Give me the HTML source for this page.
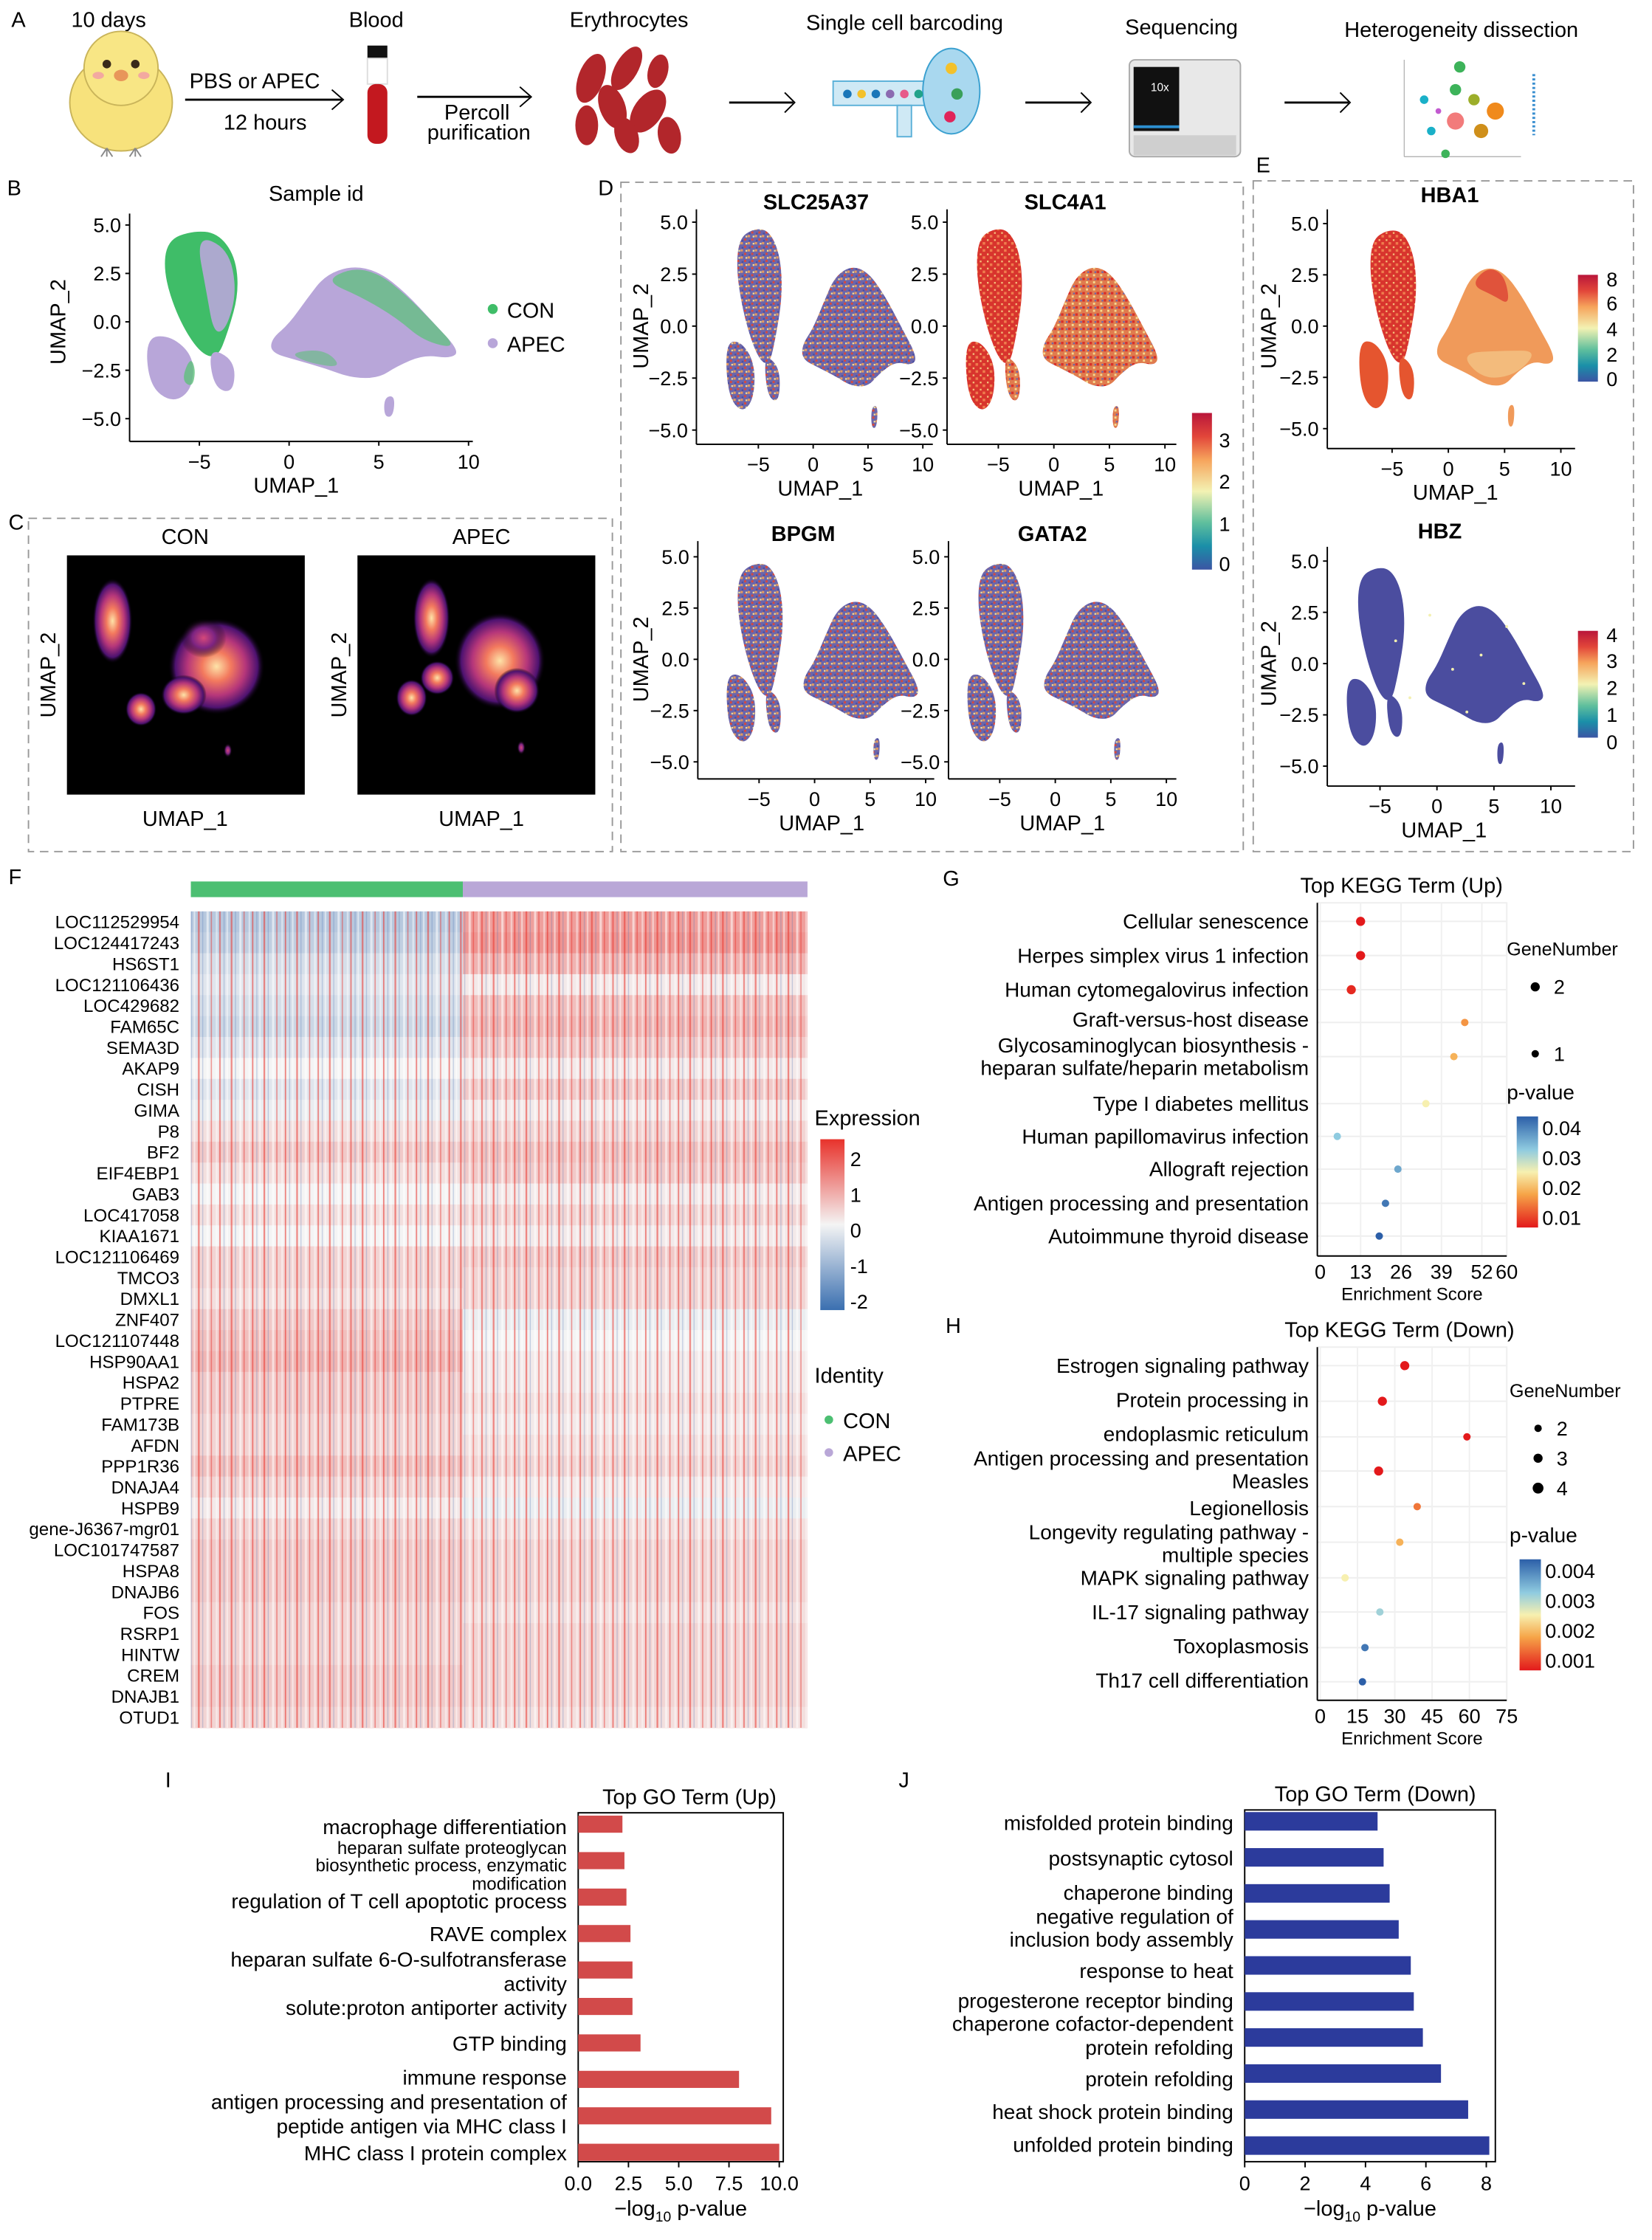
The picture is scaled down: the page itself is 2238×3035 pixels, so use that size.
<!DOCTYPE html>
<html><head><meta charset="utf-8">
<style>
html,body{margin:0;padding:0;background:#fff;}
svg{display:block;font-family:"Liberation Sans",sans-serif;}
</style></head>
<body>
<svg id="fig" width="2238" height="3035" viewBox="0 0 1160 1573" preserveAspectRatio="none" xmlns="http://www.w3.org/2000/svg">
<defs>
<pattern id="speck" width="5" height="5" patternUnits="userSpaceOnUse">
<rect width="5" height="5" fill="#6b66ab"/><rect x="0" y="0" width="1.6" height="1.6" fill="#e89a5c"/><rect x="2.5" y="2.5" width="1.5" height="1.5" fill="#d9493a"/><rect x="3.5" y="0.5" width="1.2" height="1.2" fill="#f3dc96"/><rect x="0.8" y="3.4" width="1.2" height="1.2" fill="#4c4da0"/>
</pattern>
<pattern id="speckWarm" width="5" height="5" patternUnits="userSpaceOnUse">
<rect width="5" height="5" fill="#e07c4e"/><rect x="0" y="0" width="1.8" height="1.8" fill="#d7302b"/><rect x="2.5" y="2.5" width="1.5" height="1.5" fill="#f5d88e"/><rect x="3.5" y="0.5" width="1.2" height="1.2" fill="#6b66ab"/>
</pattern>
<pattern id="speckRed" width="5" height="5" patternUnits="userSpaceOnUse">
<rect width="5" height="5" fill="#d8342d"/><rect x="0" y="0" width="1.8" height="1.8" fill="#ef7d4e"/><rect x="3" y="3" width="1.2" height="1.2" fill="#f4c07a"/>
</pattern>
<pattern id="hmStripe" width="23" height="14.7" patternUnits="userSpaceOnUse">
<rect x="1" width="1.2" height="14.7" fill="#e8322b" opacity="0.55"/><rect x="4" width="0.7" height="14.7" fill="#4a72b5" opacity="0.3"/><rect x="7" width="1.6" height="14.7" fill="#ffffff" opacity="0.55"/><rect x="10" width="0.8" height="14.7" fill="#e8322b" opacity="0.5"/><rect x="13.5" width="1.3" height="14.7" fill="#ffffff" opacity="0.45"/><rect x="16" width="0.9" height="14.7" fill="#e8322b" opacity="0.6"/><rect x="19" width="0.7" height="14.7" fill="#4a72b5" opacity="0.3"/><rect x="21" width="1.1" height="14.7" fill="#ffffff" opacity="0.5"/>
</pattern>
<linearGradient id="spectral" x1="0" y1="1" x2="0" y2="0">
<stop offset="0" stop-color="#3b55a4"/><stop offset="0.15" stop-color="#1a8fa8"/><stop offset="0.3" stop-color="#5fbf9d"/><stop offset="0.5" stop-color="#f3f2b3"/><stop offset="0.7" stop-color="#f6a45c"/><stop offset="0.85" stop-color="#e2463a"/><stop offset="1" stop-color="#b9163a"/>
</linearGradient>
<linearGradient id="exprGrad" x1="0" y1="1" x2="0" y2="0">
<stop offset="0" stop-color="#3a6fb0"/><stop offset="0.5" stop-color="#f4f4f4"/><stop offset="1" stop-color="#e8322b"/>
</linearGradient>
<linearGradient id="pGrad" x1="0" y1="1" x2="0" y2="0">
<stop offset="0" stop-color="#e3191b"/><stop offset="0.3" stop-color="#f6a548"/><stop offset="0.5" stop-color="#f7f0b0"/><stop offset="0.7" stop-color="#8fcbe0"/><stop offset="1" stop-color="#2c5fa8"/>
</linearGradient>
<radialGradient id="magma">
<stop offset="0" stop-color="#fde3a8"/><stop offset="0.3" stop-color="#f37a5e"/><stop offset="0.6" stop-color="#b5367a"/><stop offset="0.85" stop-color="#4d1270"/><stop offset="1" stop-color="#000" stop-opacity="0"/>
</radialGradient>
<radialGradient id="magmaDim">
<stop offset="0" stop-color="#d5487a"/><stop offset="0.5" stop-color="#7d2482"/><stop offset="1" stop-color="#000" stop-opacity="0"/>
</radialGradient>
</defs>

<!-- PANEL A -->
<g font-size="15">
<text x="8" y="19" font-size="15">A</text>
<text x="50" y="19">10 days</text>
<g>
<ellipse cx="85" cy="72" rx="36" ry="34" fill="#f7e27c" stroke="#c9b45a"/>
<circle cx="85" cy="48" r="26" fill="#f8e685" stroke="#c9b45a"/>
<circle cx="75" cy="45" r="3" fill="#3a2a1a"/><circle cx="95" cy="45" r="3" fill="#3a2a1a"/>
<ellipse cx="85" cy="53" rx="5" ry="4" fill="#e8965a"/>
<ellipse cx="69" cy="53" rx="4" ry="2.5" fill="#f3a9a0"/><ellipse cx="101" cy="53" rx="4" ry="2.5" fill="#f3a9a0"/>
<path d="M75 104 l-4 6 M75 104 l0 6 M75 104 l4 6 M95 104 l-4 6 M95 104 l0 6 M95 104 l4 6" stroke="#888" fill="none"/>
</g>
<text x="133" y="62">PBS or APEC</text>
<line x1="130" y1="70" x2="240" y2="70" stroke="#000" stroke-width="1.5"/><path d="M233 63 L241 70 L233 77" stroke="#000" fill="none"/>
<text x="157" y="91">12 hours</text>
<text x="245" y="19">Blood</text>
<g>
<rect x="258" y="32" width="14" height="9" fill="#111"/><rect x="258" y="41" width="14" height="18" fill="#fff" stroke="#ddd"/><rect x="258" y="59" width="14" height="42" rx="6" fill="#c3181f"/>
</g>
<line x1="293" y1="68" x2="372" y2="68" stroke="#000" stroke-width="1.5"/><path d="M365 61 L373 68 L365 75" stroke="#000" fill="none"/>
<text x="312" y="84">Percoll</text><text x="300" y="98">purification</text>
<text x="400" y="19">Erythrocytes</text>
<g fill="#b2262b">
<ellipse cx="415" cy="55" rx="9" ry="18" transform="rotate(20 415 55)"/><ellipse cx="440" cy="48" rx="8" ry="17" transform="rotate(30 440 48)"/><ellipse cx="462" cy="50" rx="7" ry="12" transform="rotate(15 462 50)"/>
<ellipse cx="430" cy="75" rx="9" ry="16" transform="rotate(-20 430 75)"/><ellipse cx="455" cy="78" rx="10" ry="17" transform="rotate(35 455 78)"/><ellipse cx="412" cy="88" rx="8" ry="14"/><ellipse cx="440" cy="95" rx="8" ry="13" transform="rotate(-20 440 95)"/><ellipse cx="470" cy="95" rx="8" ry="13" transform="rotate(-10 470 95)"/>
</g>
<line x1="512" y1="72" x2="557" y2="72" stroke="#000" stroke-width="1.5"/><path d="M551 65 L558 72 L551 79" stroke="#000" fill="none"/>
<text x="566" y="21">Single cell barcoding</text>
<g>
<rect x="585" y="57" width="70" height="17" fill="#cfe9f5" stroke="#5ab0d8"/><rect x="630" y="74" width="10" height="22" fill="#cfe9f5" stroke="#5ab0d8"/>
<ellipse cx="668" cy="64" rx="20" ry="30" fill="#a9d8ef" stroke="#3aa0d0"/>
<circle cx="595" cy="66" r="3" fill="#1a76b8"/><circle cx="605" cy="66" r="3" fill="#f3c12b"/><circle cx="615" cy="66" r="3" fill="#1a76b8"/><circle cx="625" cy="66" r="3" fill="#8c6bb1"/><circle cx="635" cy="66" r="3" fill="#e75a8a"/><circle cx="645" cy="66" r="3" fill="#22a38a"/><circle cx="668" cy="48" r="4" fill="#f3c12b"/><circle cx="672" cy="66" r="4" fill="#3aa05a"/><circle cx="667" cy="82" r="4" fill="#e0245a"/>
</g>
<line x1="720" y1="72" x2="765" y2="72" stroke="#000" stroke-width="1.5"/><path d="M759 65 L766 72 L759 79" stroke="#000" fill="none"/>
<text x="790" y="24">Sequencing</text>
<g>
<rect x="793" y="42" width="78" height="68" rx="4" fill="#e8e8e8" stroke="#aaa"/><rect x="796" y="47" width="32" height="45" fill="#111"/><rect x="796" y="88" width="32" height="2" fill="#2c8fd0"/><rect x="796" y="95" width="72" height="14" fill="#cfcfcf"/>
<text x="808" y="64" font-size="8" fill="#fff">10x</text>
</g>
<line x1="902" y1="72" x2="947" y2="72" stroke="#000" stroke-width="1.5"/><path d="M941 65 L948 72 L941 79" stroke="#000" fill="none"/>
<text x="944" y="26">Heterogeneity dissection</text>
<g>
<rect x="976" y="40" width="124" height="76" fill="#fff"/><line x1="986" y1="42" x2="986" y2="110" stroke="#aaa" stroke-width="0.6"/><line x1="986" y1="110" x2="1068" y2="110" stroke="#aaa" stroke-width="0.6"/>
<circle cx="1025" cy="47" r="4" fill="#3db35a"/><circle cx="1022" cy="63" r="4" fill="#3db35a"/><circle cx="1035" cy="70" r="4" fill="#9cae2a"/><circle cx="1050" cy="78" r="6" fill="#f08a1c"/><circle cx="1022" cy="85" r="6" fill="#f27b7b"/><circle cx="1040" cy="92" r="5" fill="#cf8f1a"/><circle cx="1000" cy="70" r="3" fill="#1ab0c8"/><circle cx="1005" cy="92" r="3" fill="#1ab0c8"/><circle cx="1015" cy="108" r="3" fill="#3db35a"/><circle cx="1010" cy="78" r="2" fill="#c25ad0"/>
<line x1="1077" y1="52" x2="1077" y2="95" stroke="#3a8fd0" stroke-dasharray="1.5 1.5" stroke-width="2"/>
</g>
</g>

<!-- dashed boxes -->
<rect x="20" y="364" width="410" height="234" fill="none" stroke="#999" stroke-dasharray="6 4"/>
<rect x="436" y="128" width="437" height="470" fill="none" stroke="#999" stroke-dasharray="6 4"/>
<rect x="880" y="127" width="267" height="471" fill="none" stroke="#999" stroke-dasharray="6 4"/>

<g id="umaps" font-size="15"></g>
<g id="densityC" font-size="15"></g>
<g id="heatF"></g>
<g id="dotG"></g>
<g id="dotH"></g>
<g id="barI"></g>
<g id="barJ"></g>
</svg>
<script>
const NS='http://www.w3.org/2000/svg';
function el(parent,tag,attrs,text){const e=document.createElementNS(NS,tag);for(const k in attrs)e.setAttribute(k,attrs[k]);if(text!==undefined)e.textContent=text;parent.appendChild(e);return e;}

// ---------- Heatmap data (F) ----------
const genes=["LOC112529954","LOC124417243","HS6ST1","LOC121106436","LOC429682","FAM65C","SEMA3D","AKAP9","CISH","GIMA","P8","BF2","EIF4EBP1","GAB3","LOC417058","KIAA1671","LOC121106469","TMCO3","DMXL1","ZNF407","LOC121107448","HSP90AA1","HSPA2","PTPRE","FAM173B","AFDN","PPP1R36","DNAJA4","HSPB9","gene-J6367-mgr01","LOC101747587","HSPA8","DNAJB6","FOS","RSRP1","HINTW","CREM","DNAJB1","OTUD1"];
const conExpr=[-0.6,-0.5,-0.3,-0.2,-0.3,-0.4,-0.2,0.0,-0.2,-0.1,0.2,0.4,0.2,0.0,0.2,0.0,0.3,0.3,0.2,0.4,0.5,0.6,0.4,0.4,0.3,0.3,0.5,0.3,0.1,0.3,0.4,0.4,0.4,0.3,0.3,0.3,0.4,0.4,0.3];
const apecExpr=[0.8,0.9,0.6,0.1,0.5,0.6,0.4,0.1,0.4,0.1,0.3,0.5,0.4,0.1,0.3,0.1,0.4,0.3,0.3,-0.1,0.0,0.1,0.1,0.2,0.1,0.2,0.3,0.1,-0.1,0.2,0.3,0.3,0.3,0.2,0.3,0.3,0.3,0.3,0.2];
const exprTicks=[2,1,0,-1,-2];

// ---------- KEGG up (G) ----------
const gScore=[13,13,10,46.5,43,34,5.5,25,21,19];
const gPval=[0.01,0.01,0.011,0.018,0.02,0.025,0.031,0.034,0.038,0.04];
const gGenes=[2,2,2,1,1,1,1,1,1,1];
const gTicks=[0,13,26,39,52,60];
const gPTicks=[0.04,0.03,0.02,0.01];

// ---------- KEGG down (H) ----------
const hScore=[34,25,59,23.5,39,32,10,24,18,17];
const hPval=[0.001,0.001,0.001,0.001,0.0016,0.002,0.0025,0.003,0.0038,0.004];
const hGenes=[3,3,2,3,2,2,2,2,2,2];
const hTicks=[0,15,30,45,60,75];
const hPTicks=[0.004,0.003,0.002,0.001];

// ---------- GO up (I) ----------
const iLabels=[["macrophage differentiation",1283,14.5],["heparan sulfate proteoglycan",1297,12.5],["biosynthetic process, enzymatic",1309,12.5],["modification",1322,12.5],["regulation of T cell apoptotic process",1335,14.5],["RAVE complex",1358,14.5],["heparan sulfate 6-O-sulfotransferase",1376,14.5],["activity",1393,14.5],["solute:proton antiporter activity",1410,14.5],["GTP binding",1435,14.5],["immune response",1459,14.5],["antigen processing and presentation of",1476,14.5],["peptide antigen via MHC class I",1493,14.5],["MHC class I protein complex",1512,14.5]];
const iVals=[2.2,2.3,2.4,2.6,2.7,2.7,3.1,8.0,9.6,10.0];
const iTicks=[0,2.5,5,7.5,10];

// ---------- GO down (J) ----------
const jLabels=[["misfolded protein binding",1280],["postsynaptic cytosol",1305],["chaperone binding",1329],["negative regulation of",1346],["inclusion body assembly",1362],["response to heat",1384],["progesterone receptor binding",1405],["chaperone cofactor-dependent",1421],["protein refolding",1438],["protein refolding",1460],["heat shock protein binding",1483],["unfolded protein binding",1506]];
const jVals=[4.4,4.6,4.8,5.1,5.5,5.6,5.9,6.5,7.4,8.1];
const jTicks=[0,2,4,6,8];

// ================= UMAP panels =================
const blobs={
 leftUp:[[-6.8,4.2],[-5.4,4.7],[-4.0,4.6],[-3.0,3.4],[-2.8,1.5],[-3.4,-0.5],[-4.0,-1.9],[-5.0,-1.6],[-6.2,0.2],[-7.0,2.5]],
 leftLow:[[-8.0,-0.8],[-6.6,-0.7],[-5.3,-1.8],[-5.4,-3.5],[-6.5,-4.2],[-7.8,-3.3]],
 small:[[-4.5,-1.3],[-3.0,-2.0],[-3.1,-3.7],[-4.2,-3.4]],
 right:[[-1,-0.9],[0,-0.1],[1,1.2],[2,2.4],[3.5,2.9],[5,2.6],[6.5,1.5],[8,0],[9.5,-1.5],[9,-1.9],[7.5,-1.7],[6,-2.3],[5,-2.9],[3.5,-2.9],[2,-2.4],[0.5,-2.0],[-1,-1.6]],
 tiny:[[5.3,-3.9],[5.9,-3.8],[5.8,-4.9],[5.3,-4.9]]
};
function blobPath(pts,X,Y){
 const n=pts.length;let d='';
 for(let i=0;i<n;i++){const p=pts[i],q=pts[(i+1)%n];const mx=(X(p[0])+X(q[0]))/2,my=(Y(p[1])+Y(q[1]))/2;
  if(i===0){const r=pts[n-1];d+='M'+((X(r[0])+X(p[0]))/2)+' '+((Y(r[1])+Y(p[1]))/2);}
  d+=' Q'+X(p[0])+' '+Y(p[1])+' '+mx+' '+my;}
 return d+'Z';
}
const U=document.getElementById('umaps');
function umapPanel(cfg){
 const g=el(U,'g',{});
 
 
 const X=v=>cfg.x0+v*cfg.sx, Y=v=>cfg.y0-v*cfg.sy;
 for(const k of ['leftUp','leftLow','small','right','tiny']){
  const p=el(g,'path',{d:blobPath(blobs[k],X,Y),fill:(cfg.fills&&cfg.fills[k])||cfg.fill});
  
  
 }
 if(cfg.extra)cfg.extra(g,X,Y);
 const ax=el(g,'g',{stroke:'#000','stroke-width':1});
 el(ax,'line',{x1:cfg.axL,y1:cfg.axB,x2:cfg.axR,y2:cfg.axB});
 el(ax,'line',{x1:cfg.axL,y1:cfg.axT,x2:cfg.axL,y2:cfg.axB});
 const xt=[-5,0,5,10], yt=[5,2.5,0,-2.5,-5];
 xt.forEach(v=>{el(ax,'line',{x1:X(v),x2:X(v),y1:cfg.axB,y2:cfg.axB+3});
  const t=el(g,'text',{x:X(v),y:cfg.axB+19,'text-anchor':'middle','font-size':14},(v<0?'\u2212':'')+Math.abs(v));
  });
 yt.forEach(v=>{el(ax,'line',{x1:cfg.axL-3,x2:cfg.axL,y1:Y(v),y2:Y(v)});
  const t=el(g,'text',{x:cfg.axL-6,y:Y(v)+5,'text-anchor':'end','font-size':14},(v<0?'\u2212':'')+Math.abs(v).toFixed(1));
  });
 const xl=el(g,'text',{x:X(0)+5,y:cfg.axB+36,'text-anchor':'middle','font-size':15},'UMAP_1');
 
 if(cfg.ylab){const yl=el(g,'text',{x:0,y:0,'text-anchor':'middle','font-size':15,transform:`translate(${cfg.ylx},${Y(0)}) rotate(-90)`},'UMAP_2');
  }
 if(cfg.title){const tt=el(g,'text',{x:cfg.tx,y:cfg.ty,'text-anchor':'middle','font-size':cfg.tsize||15,'font-weight':cfg.bold?'bold':'normal'},cfg.title);
  }
}
umapPanel({name:'panel-b-sample-umap',x0:203,y0:226,sx:12.6,sy:13.6,fill:'#b8a6d9',
 axL:91,axR:332,axT:150,axB:310,ylab:true,ylx:46,title:'Sample id',tx:222,ty:141,
 fills:{leftUp:'#3fbd68'},
 extra:(g,X,Y)=>{
  el(g,'path',{d:blobPath([[-5.2,4.5],[-3.4,3.8],[-2.9,1.6],[-3.5,-0.4],[-4.2,-0.6],[-4.6,1.5]],X,Y),fill:'#b8a6d9',opacity:0.9});
  el(g,'path',{d:blobPath([[2,2.1],[3.5,2.8],[5,2.5],[6.5,1.4],[8,0],[9.4,-1.4],[7.5,-1.0],[6,0.2],[4,1.3]],X,Y),fill:'#5fc07c',opacity:0.75});
  el(g,'path',{d:blobPath([[-5.5,-1.8],[-5.2,-2.5],[-5.4,-3.4],[-6.0,-3.0]],X,Y),fill:'#5fc07c',opacity:0.8});
  el(g,'path',{d:blobPath([[0,-1.6],[2,-1.4],[3,-2.4],[1,-2.1]],X,Y),fill:'#5fc07c',opacity:0.6});
 }});
const lg=el(U,'g',{'font-size':15});

el(lg,'circle',{cx:346,cy:217,r:3.5,fill:'#3fbd68'});el(lg,'text',{x:356,y:223},'CON');
el(lg,'circle',{cx:346,cy:241,r:3.5,fill:'#b8a6d9'});el(lg,'text',{x:356,y:247},'APEC');
el(U,'text',{x:5,y:137,'font-size':15},'B');
el(U,'text',{x:6,y:372,'font-size':15},'C');
el(U,'text',{x:420,y:137,'font-size':15},'D');
el(U,'text',{x:882,y:121,'font-size':15},'E');
const dCommon={sy:14.6,ylab:true,bold:true};
umapPanel(Object.assign({},dCommon,{name:'umap-slc25a37',x0:571,y0:229,sx:7.7,fill:'url(#speck)',axL:489,axR:655,axT:147,axB:312,ylx:455,title:'SLC25A37',tx:573,ty:147}));
umapPanel(Object.assign({},dCommon,{name:'umap-slc4a1',x0:740,y0:229,sx:7.8,fill:'url(#speckWarm)',fills:{leftUp:'url(#speckRed)',leftLow:'url(#speckRed)'},axL:665,axR:826,axT:147,axB:312,ylab:false,title:'SLC4A1',tx:748,ty:147}));
umapPanel(Object.assign({},dCommon,{name:'umap-bpgm',x0:572,y0:463,sx:7.8,sy:14.4,fill:'url(#speck)',axL:490,axR:656,axT:380,axB:547,ylx:455,title:'BPGM',tx:564,ty:380}));
umapPanel(Object.assign({},dCommon,{name:'umap-gata2',x0:741,y0:463,sx:7.8,sy:14.4,fill:'url(#speck)',axL:666,axR:826,axT:380,axB:547,ylab:false,title:'GATA2',tx:739,ty:380}));
umapPanel({name:'umap-hba1',x0:1017,y0:229,sx:7.9,sy:14.4,fill:'#f09a5a',fills:{leftUp:'url(#speckRed)',leftLow:'#e5552f',small:'#e5552f'},axL:932,axR:1106,axT:147,axB:315,ylab:true,ylx:896,title:'HBA1',tx:1018,ty:142,bold:true,
 extra:(g,X,Y)=>{el(g,'path',{d:blobPath([[2,2],[3.5,2.9],[5,2.5],[5.5,1],[4,1.5]],X,Y),fill:'#d8342d',opacity:0.7});
  el(g,'path',{d:blobPath([[1,-1.3],[5,-1.2],[8,-1.2],[6,-2.4],[3,-2.6]],X,Y),fill:'#f4c98a',opacity:0.7});}});
umapPanel({name:'umap-hbz',x0:1009,y0:466,sx:8,sy:14.4,fill:'#4b4d9f',axL:932,axR:1106,axT:384,axB:552,ylab:true,ylx:896,title:'HBZ',tx:1011,ty:378,bold:true});
function colorbar(parent,name,x,y,w,h,fill,labels,lx){
 const g=el(parent,'g',{});
 el(g,'rect',{x,y,width:w,height:h,fill});
 labels.forEach(l=>{el(g,'text',{x:lx,y:l[1]+5,'font-size':14},l[0]);});
 return g;
}
colorbar(U,'colorbar-d',837,290,14,110,'url(#spectral)',[['3',309],['2',338],['1',368],['0',396]],856);
colorbar(U,'colorbar-hba1',1108,193,14,75,'url(#spectral)',[['8',196],['6',213],['4',231],['2',249],['0',266]],1128);
colorbar(U,'colorbar-hbz',1108,443,14,75,'url(#spectral)',[['4',446],['3',464],['2',483],['1',502],['0',521]],1128);
[[1004,432],[980,450],[1020,470],[1040,460],[1070,480],[990,490],[1058,440],[1030,500]].forEach(p=>el(U,'circle',{cx:p[0],cy:p[1],r:1,fill:'#f3f0b0'}));

// ================= Panel C density =================
const C=document.getElementById('densityC');
[['CON',47,130],['APEC',251,338]].forEach(([lab,x0,tx],k)=>{
 const g=el(C,'g',{});
 el(g,'rect',{x:x0,y:390,width:167,height:168,fill:'#000'});
 const bl=k===0?[[32,46,14,30,1],[52,108,11,12,1],[105,78,34,34,1],[82,98,16,14,1],[113,137,3,5,0],[96,58,16,14,0]]:[[52,44,13,28,1],[38,100,11,13,1],[56,86,12,12,1],[100,74,32,34,1],[112,95,16,16,1],[115,135,3,5,0]];
 bl.forEach(b=>el(g,'ellipse',{cx:x0+b[0],cy:390+b[1],rx:b[2],ry:b[3],fill:b[4]?'url(#magma)':'url(#magmaDim)'}));
 el(g,'text',{x:tx,y:382,'text-anchor':'middle'},lab);
 el(g,'text',{x:tx,y:580,'text-anchor':'middle'},'UMAP_1');
 el(g,'text',{x:0,y:0,'text-anchor':'middle',transform:`translate(${x0-8},474) rotate(-90)`},'UMAP_2');
});

// ================= Panel F heatmap =================
const F=document.getElementById('heatF');
el(F,'text',{x:6,y:621,'font-size':15},'F');
const hmL=134,hmSplit=325,hmR=567,hmT=640,rowH=14.7;
function exprColor(v){
 v=Math.max(-2,Math.min(2,v));const t=Math.min(1,Math.abs(v)/2*1.1);
 const w=[244,244,244], c=v>=0?[232,50,43]:[58,111,176];
 const m=w.map((a,i)=>Math.round(a+(c[i]-a)*t));
 return `rgb(${m[0]},${m[1]},${m[2]})`;
}
const topCon=el(F,'rect',{x:hmL,y:619,width:hmSplit-hmL,height:11,fill:'#4cbf72'});

const topApec=el(F,'rect',{x:hmSplit,y:619,width:hmR-hmSplit,height:11,fill:'#b9a7d7'});

genes.forEach((gname,i)=>{
 const y=hmT+i*rowH;
 const a=el(F,'rect',{x:hmL,y:y,width:hmSplit-hmL,height:rowH+0.3,fill:exprColor(conExpr[i])});
 
 const b=el(F,'rect',{x:hmSplit,y:y,width:hmR-hmSplit,height:rowH+0.3,fill:exprColor(apecExpr[i])});
 
 const t=el(F,'text',{x:126,y:y+rowH/2+4.5,'text-anchor':'end','font-size':12.5},gname);
 
});
el(F,'rect',{x:hmL,y:hmT,width:hmR-hmL,height:genes.length*rowH,fill:'url(#hmStripe)'});
el(F,'text',{x:572,y:790,'font-size':15},'Expression');
el(F,'rect',{x:576,y:800,width:17,height:120,fill:'url(#exprGrad)'});
exprTicks.forEach((v,i)=>el(F,'text',{x:597,y:819+i*25,'font-size':14},(v<0?'-':'')+Math.abs(v)));
el(F,'text',{x:572,y:971,'font-size':15},'Identity');
el(F,'circle',{cx:582,cy:997,r:3,fill:'#4cbf72'});el(F,'text',{x:592,y:1003,'font-size':15},'CON');
el(F,'circle',{cx:582,cy:1020,r:3,fill:'#b9a7d7'});el(F,'text',{x:592,y:1026,'font-size':15},'APEC');

// ================= Dot plots =================
function pColor(p,pmin,pmax){
 const t=(p-pmin)/(pmax-pmin);
 const stops=[[0,[227,25,27]],[0.3,[246,165,72]],[0.5,[247,240,176]],[0.7,[143,203,224]],[1,[44,95,168]]];
 for(let i=0;i<stops.length-1;i++){if(t<=stops[i+1][0]){const u=(t-stops[i][0])/(stops[i+1][0]-stops[i][0]);const c=stops[i][1].map((a,k)=>Math.round(a+(stops[i+1][1][k]-a)*u));return `rgb(${c})`;}}
 return 'rgb(44,95,168)';
}
function dotPlot(G,cfg){
 el(G,'text',{x:cfg.letterX,y:cfg.letterY,'font-size':15},cfg.letter);
 el(G,'text',{x:cfg.titleX,y:cfg.titleY,'font-size':15},cfg.title);
 el(G,'rect',{x:cfg.L,y:cfg.T,width:cfg.R-cfg.L,height:cfg.B-cfg.T,fill:'#fff',stroke:'#eee'});
 const X=v=>cfg.L+2+(v-cfg.xmin)/(cfg.xmax-cfg.xmin)*(cfg.R-cfg.L-2);
 cfg.rows.forEach(y=>el(G,'line',{x1:cfg.L,x2:cfg.R,y1:y,y2:y,stroke:'#eee'}));
 cfg.ticks.forEach(v=>{el(G,'line',{x1:X(v),x2:X(v),y1:cfg.T,y2:cfg.B,stroke:'#f0f0f0'});
  el(G,'text',{x:X(v),y:cfg.B+16,'text-anchor':'middle','font-size':14},v);});
 el(G,'line',{x1:cfg.L,x2:cfg.R,y1:cfg.B,y2:cfg.B,stroke:'#000'});
 el(G,'line',{x1:cfg.L,x2:cfg.L,y1:cfg.T,y2:cfg.B,stroke:'#000'});
 el(G,'text',{x:(cfg.L+cfg.R)/2,y:cfg.B+31,'text-anchor':'middle','font-size':12.5},'Enrichment Score');
 cfg.labels.forEach(l=>{const t=el(G,'text',{x:cfg.L-6,y:l[1]+5,'text-anchor':'end','font-size':14.5},l[0]);
  });
 cfg.scores.forEach((s,i)=>{
  const c=el(G,'circle',{cx:X(s),cy:cfg.rows[i],r:cfg.rad(cfg.genes[i]),fill:pColor(cfg.pval[i],cfg.pmin,cfg.pmax)});
  
  
 });
 el(G,'text',{x:cfg.lgX,y:cfg.lgY,'font-size':13},'GeneNumber');
 cfg.geneLeg.forEach((gv,i)=>{el(G,'circle',{cx:cfg.lgX+20,cy:cfg.lgY+22+i*cfg.glStep,r:cfg.rad(gv),fill:'#000'});
  el(G,'text',{x:cfg.lgX+33,y:cfg.lgY+27+i*cfg.glStep,'font-size':14},gv);});
 el(G,'text',{x:cfg.lgX,y:cfg.pY,'font-size':14.5},'p-value');
 el(G,'rect',{x:cfg.lgX+7,y:cfg.pY+12,width:15,height:78,fill:'url(#pGrad)'});
 cfg.pTicks.forEach((v,i)=>el(G,'text',{x:cfg.lgX+25,y:cfg.pY+25+i*21,'font-size':14},String(v)));
}
const GL=[["Cellular senescence",647],["Herpes simplex virus 1 infection",671],["Human cytomegalovirus infection",695],["Graft-versus-host disease",716],["Glycosaminoglycan biosynthesis -",734],["heparan sulfate/heparin metabolism",750],["Type I diabetes mellitus",775],["Human papillomavirus infection",798],["Allograft rejection",821],["Antigen processing and presentation",845],["Autoimmune thyroid disease",868]];
dotPlot(document.getElementById('dotG'),{letter:'G',letterX:662,letterY:622,title:'Top  KEGG Term (Up)',titleX:913,titleY:627,
 L:925,R:1058,T:634,B:882,xmin:0,xmax:60,ticks:gTicks,rows:[647,671,695,718,742,775,798,821,845,868],
 labels:GL,scores:gScore,pval:gPval,genes:gGenes,pmin:0.01,pmax:0.04,rad:g=>g>=2?3.2:2.6,
 lgX:1058,lgY:671,geneLeg:[2,1],glStep:47,pY:772,pTicks:gPTicks});
const HL=[["Estrogen signaling pathway",959],["Protein processing in",983],["endoplasmic reticulum",1007],["Antigen processing and presentation",1024],["Measles",1040],["Legionellosis",1059],["Longevity regulating pathway -",1076],["multiple species",1092],["MAPK signaling pathway",1108],["IL-17 signaling pathway",1132],["Toxoplasmosis",1156],["Th17 cell differentiation",1180]];
dotPlot(document.getElementById('dotH'),{letter:'H',letterX:664,letterY:936,title:'Top  KEGG Term (Down)',titleX:902,titleY:939,
 L:925,R:1058,T:946,B:1194,xmin:0,xmax:75,ticks:hTicks,rows:[959,984,1009,1033,1058,1083,1108,1132,1157,1181],
 labels:HL,scores:hScore,pval:hPval,genes:hGenes,pmin:0.001,pmax:0.004,rad:g=>g===2?2.6:g===3?3.2:3.8,
 lgX:1060,lgY:981,geneLeg:[2,3,4],glStep:21,pY:1083,pTicks:hPTicks});

// ================= Bar charts =================
function barChart(G,cfg){
 el(G,'text',{x:cfg.letterX,y:cfg.letterY,'font-size':15},cfg.letter);
 el(G,'text',{x:cfg.titleX,y:cfg.titleY,'font-size':15},cfg.title);
 const X=v=>cfg.L+v/cfg.xmax*(cfg.R-cfg.L);
 el(G,'rect',{x:cfg.L,y:cfg.T,width:cfg.R-cfg.L,height:cfg.B-cfg.T,fill:'none',stroke:'#000'});
 cfg.vals.forEach((v,i)=>{const y=cfg.T+cfg.rowStart+i*cfg.step;
  const r=el(G,'rect',{x:cfg.L,y:y-cfg.bh/2,width:X(v)-cfg.L,height:cfg.bh,fill:cfg.color});
  
  
 });
 cfg.labels.forEach(l=>{const t=el(G,'text',{x:cfg.L-8,y:l[1]+5,'text-anchor':'end','font-size':l[2]||14.5},l[0]);
  });
 cfg.ticks.forEach(v=>{el(G,'line',{x1:X(v),x2:X(v),y1:cfg.B,y2:cfg.B+4,stroke:'#000'});
  el(G,'text',{x:X(v),y:cfg.B+20,'text-anchor':'middle','font-size':14},cfg.fmt(v));});
 const xl=el(G,'text',{x:(cfg.L+cfg.R)/2,y:cfg.B+38,'text-anchor':'middle','font-size':15});
 xl.innerHTML='\u2212log<tspan font-size="10" dy="4">10</tspan><tspan dy="-4"> p-value</tspan>';
}
barChart(document.getElementById('barI'),{letter:'I',letterX:116,letterY:1255,title:'Top GO Term (Up)',titleX:423,titleY:1267,
 L:406,R:550,T:1273,B:1518,xmax:10.2,vals:iVals,labels:iLabels,rowStart:8,step:25.6,bh:12,color:'#d24a4a',ticks:iTicks,fmt:v=>v.toFixed(1)});
barChart(document.getElementById('barJ'),{letter:'J',letterX:631,letterY:1255,title:'Top GO Term (Down)',titleX:895,titleY:1265,
 L:874,R:1050,T:1271,B:1518,xmax:8.3,vals:jVals,labels:jLabels,rowStart:8,step:25.3,bh:13,color:'#2c3b9c',ticks:jTicks,fmt:v=>String(v)});
</script>
</body></html>
